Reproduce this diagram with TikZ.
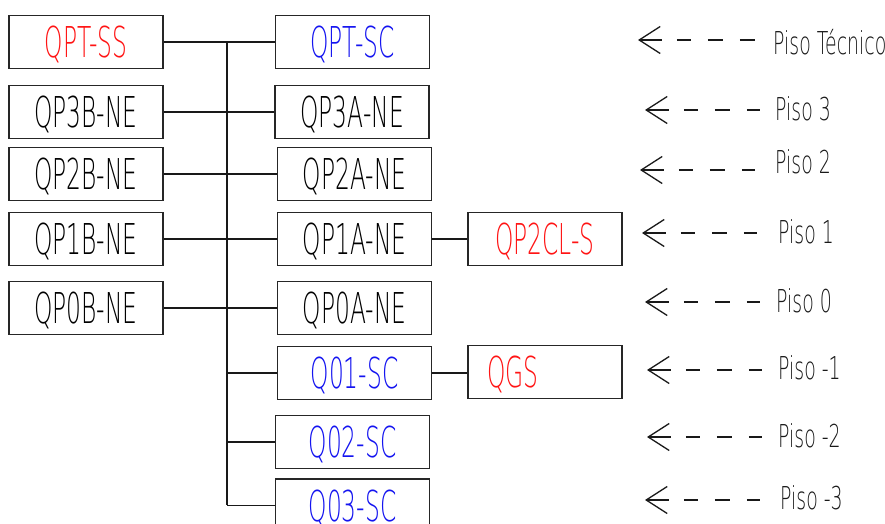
\documentclass[tikz,border=0pt]{standalone}
\usepackage{fontspec}
\usetikzlibrary{arrows.meta,calc}
\newfontfamily\boxfont[FakeStretch=0.55]{DejaVu Sans ExtraLight}
\newfontfamily\lblfont[FakeStretch=0.6]{DejaVu Sans ExtraLight}
\definecolor{rojo}{RGB}{255,20,20}
\definecolor{azul}{RGB}{20,20,240}
\begin{document}
\begin{tikzpicture}[x=1pt,y=-1pt,
  box/.style={draw=black!85, line width=1.8pt, minimum width=154pt, minimum height=53pt,
    inner sep=0pt, font=\boxfont\fontsize{42.5}{43}\selectfont, text height=31pt, text depth=0pt},
  wire/.style={line width=1.6pt, draw=black!90},
  lbl/.style={anchor=west, inner sep=0pt, font=\lblfont\fontsize{31.5}{32}\selectfont,
    text height=23pt, text depth=0pt, text=black!90},
  flecha/.style={{Straight Barb[length=21pt,width=27pt]}-, line width=1.3pt, draw=black!90,
    dash pattern=on 22pt off 15pt on 14pt off 17pt on 15pt off 17pt on 40pt off 1pt}
]
\useasboundingbox (0,0) rectangle (885,524);
\clip (0,0) rectangle (885,524);

% left column
\node[box, text=rojo] (qptss) at (86,42) {QPT-SS};
\node[box] (qp3b) at (86,112) {QP3B-NE};
\node[box] (qp2b) at (86,174) {QP2B-NE};
\node[box] (qp1b) at (86,239) {QP1B-NE};
\node[box] (qp0b) at (86,308) {QP0B-NE};

% right column
\node[box, text=azul] (qptsc) at (352.5,42) {QPT-SC};
\node[box] (qp3a) at (352,112) {QP3A-NE};
\node[box] (qp2a) at (354.5,174) {QP2A-NE};
\node[box] (qp1a) at (354.5,239) {QP1A-NE};
\node[box] (qp0a) at (354.5,308) {QP0A-NE};
\node[box, text=azul] (q01) at (354.5,373) {Q01-SC};
\node[box, text=azul] (q02) at (352.5,442) {Q02-SC};
\node[box, text=azul] (q03) at (352.5,505.5) {Q03-SC};

% third column
\node[box, text=rojo] (qp2cl) at (545,239) {QP2CL-S};
\node[box, text=rojo, text width=116pt, align=left] (qgs) at (545,372) {QGS};

% trunk
\coordinate (ttop) at (227,42);
\coordinate (tbot) at (227,505);
\draw[wire] (ttop) -- (tbot);

\draw[wire] (qptss.east) -- (qptsc.west);
\draw[wire] (qp3b.east) -- (qp3a.west);
\draw[wire] (qp2b.east) -- (qp2a.west);
\draw[wire] (qp1b.east) -- (qp1a.west);
\draw[wire] (qp0b.east) -- (qp0a.west);
\draw[wire] (q01.west -| ttop) -- (q01.west);
\draw[wire] (q02.west -| ttop) -- (q02.west);
\draw[wire] (q03.west -| ttop) -- (q03.west);
\draw[wire] (qp1a.east) -- (qp2cl.west);
\draw[wire] (q01.east) -- (q01.east -| qgs.west);

% floor labels
\node[lbl] (pT) at (773,43) {Piso Técnico};
\node[lbl] (p3) at (775,109) {Piso 3};
\node[lbl] (p2) at (775,162) {Piso 2};
\node[lbl] (p1) at (778,232) {Piso 1};
\node[lbl] (p0) at (776,301) {Piso 0};
\node[lbl] (pm1) at (778,368) {Piso -1};
\node[lbl] (pm2) at (778,436) {Piso -2};
\node[lbl] (pm3) at (780,498) {Piso -3};

\coordinate (aT) at (638,40);
\coordinate (a3) at (645,110);
\coordinate (a2) at (640,170);
\coordinate (a1) at (642,233);
\coordinate (a0) at (645,302);
\coordinate (am1) at (647,370);
\coordinate (am2) at (647,437);
\coordinate (am3) at (645,500);

\draw[flecha] (aT) -- ($(aT -| pT.west)+(-18,0)$);
\draw[flecha] (a3) -- ($(a3 -| p3.west)+(-15,0)$);
\draw[flecha] (a2) -- ($(a2 -| p2.west)+(-20,0)$);
\draw[flecha] (a1) -- ($(a1 -| p1.west)+(-21,0)$);
\draw[flecha] (a0) -- ($(a0 -| p0.west)+(-16,0)$);
\draw[flecha] (am1) -- ($(am1 -| pm1.west)+(-16,0)$);
\draw[flecha] (am2) -- ($(am2 -| pm2.west)+(-16,0)$);
\draw[flecha] (am3) -- ($(am3 -| pm3.west)+(-20,0)$);
\end{tikzpicture}
\end{document}
